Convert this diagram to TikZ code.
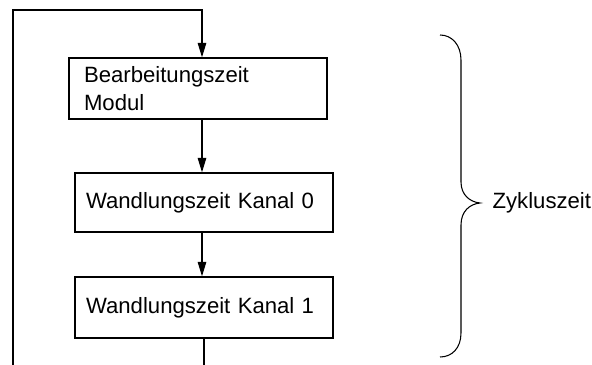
\documentclass[tikz,border=0pt]{standalone}
\usepackage{fontspec}
\setmainfont{Liberation Sans}
\usetikzlibrary{arrows.meta}
\begin{document}
\begin{tikzpicture}[x=0.02cm,y=-0.02cm,line width=0.7pt,font=\fontsize{12.6}{15.8}\selectfont,
  zeitbox/.style={shape=rectangle,draw,minimum width=5.16cm,align=left,text width=4.72cm,inner xsep=0.22cm},
  pfeil/.style={-{Triangle[length=2.9mm,width=1.7mm]}}]
\useasboundingbox (0,0) rectangle (592,365);
\node[zeitbox,minimum height=1.22cm,text width=4.56cm,inner xsep=0.3cm] (modul) at (198,88.5) {Bearbeitungszeit\\Modul};
\node[zeitbox,minimum height=1.18cm] (kanal0) at (204,202.5) {Wandlungszeit Kanal 0};
\node[zeitbox,minimum height=1.22cm] (kanal1) at (204,307.5) {Wandlungszeit Kanal 1};

\coordinate (ecke) at (13,10);
\coordinate (unten) at (13,365);
\coordinate (spalte) at (202,0);
\coordinate (ende) at (204,365);

\draw[pfeil] (unten) to (ecke) -| (modul.north -| spalte);
\draw[pfeil] (modul.south -| spalte) to (kanal0.north -| spalte);
\draw[pfeil] (kanal0.south -| spalte) to (kanal1.north -| spalte);
\draw (kanal1.south) to (kanal1.south |- ende);

\coordinate (spitze) at (480,203);
\draw[line width=0.6pt] (440,35) .. controls (452,35) and (461,45) .. (461,60) to (461,182)
  .. controls (461,195) and (470,202) .. (spitze)
  .. controls (470,204) and (461,211) .. (461,225) to (461,333)
  .. controls (461,348) and (452,357) .. (440,357);
\node[anchor=west,inner sep=0pt] (zyklus) at ([xshift=0.24cm]spitze) {Zykluszeit};
\end{tikzpicture}
\end{document}
